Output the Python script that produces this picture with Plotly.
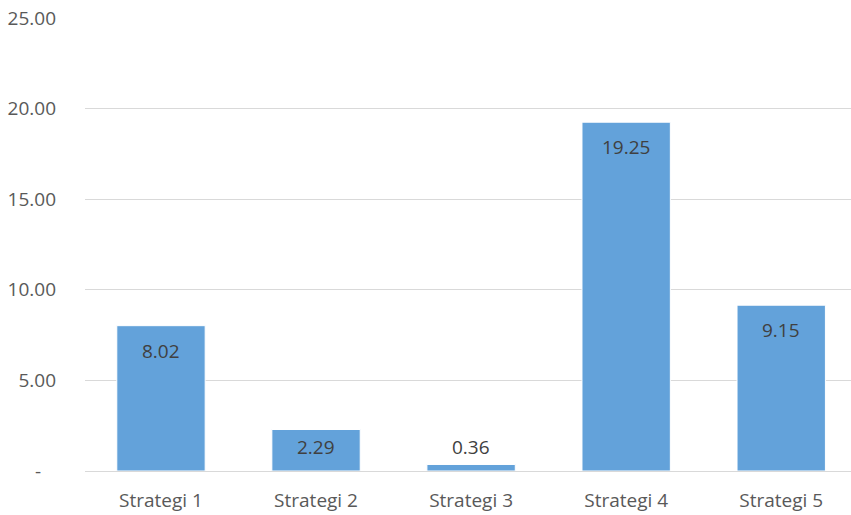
import plotly.graph_objects as go

categories = ["Strategi 1", "Strategi 2", "Strategi 3", "Strategi 4", "Strategi 5"]
values = [8.02, 2.29, 0.36, 19.25, 9.15]
tick_vals = [0, 5, 10, 15, 20, 25]
tick_text = ["-\u00a0\u00a0\u00a0", "5.00", "10.00", "15.00", "20.00", "25.00"]

# pixel offsets of the data labels relative to bar tops (style only)
label_shift = [-25, -17, 17, -25, -25]

FONT = "'Open Sans', sans-serif"

fig = go.Figure()
fig.add_trace(go.Bar(
    x=list(range(len(categories))), y=values,
    width=0.57,
    marker=dict(color="#63A2DA", line=dict(color="white", width=1)),
    hoverinfo="skip",
))

for i, (c, v) in enumerate(zip(categories, values)):
    fig.add_annotation(
        x=i, y=v, text=f"{v:.2f}", showarrow=False,
        yanchor="middle", xanchor="center", yshift=label_shift[i],
        font=dict(family=FONT, size=19, color="#404040"),
    )

fig.update_layout(
    width=851, height=515,
    margin=dict(l=85, r=0, t=18, b=44),
    paper_bgcolor="white", plot_bgcolor="white",
    showlegend=False,
    font=dict(family=FONT, size=19, color="#595959"),
    xaxis=dict(
        range=[-0.49, 4.45],
        tickmode="array", tickvals=list(range(len(categories))), ticktext=categories,
        showgrid=False, zeroline=False, showline=False,
        ticks="", ticklabelstandoff=16,
        tickfont=dict(family=FONT, size=19, color="#595959"),
    ),
    yaxis=dict(
        range=[0, 25],
        tickmode="array", tickvals=tick_vals, ticktext=tick_text,
        showgrid=True, gridcolor="#D9D9D9", gridwidth=1,
        zeroline=True, zerolinecolor="#D9D9D9", zerolinewidth=1,
        showline=False, ticks="", ticklabelstandoff=28,
        tickfont=dict(family=FONT, size=19, color="#595959"),
    ),
)

fig.write_html("out.html")
